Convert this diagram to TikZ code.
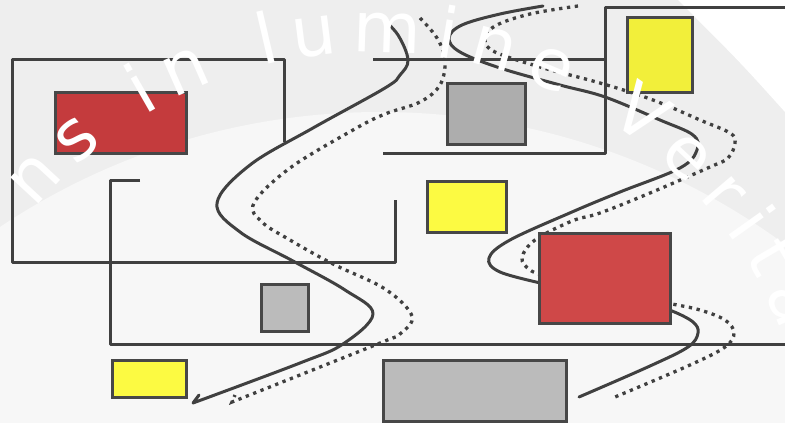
\documentclass[tikz,border=0pt]{standalone}
\usepackage{fontspec}
\newfontfamily\sealfont{DejaVu Sans}
\usetikzlibrary{decorations.text}

\definecolor{sealgrey}{HTML}{EEEEEE}
\definecolor{seallight}{HTML}{F7F7F7}
\definecolor{wallgrey}{HTML}{404040}
\definecolor{boxedge}{HTML}{474747}
\definecolor{redA}{HTML}{C43B3D}
\definecolor{redB}{HTML}{CF4848}
\definecolor{yellowA}{HTML}{F2EF3A}
\definecolor{yellowB}{HTML}{FCFA42}
\definecolor{greyA}{HTML}{ADADAD}
\definecolor{greyB}{HTML}{BBBBBB}

\begin{document}
\begin{tikzpicture}[x=1pt, y=-1pt,
  wall/.style={draw=wallgrey, line width=3pt, line join=round},
  route/.style={draw=wallgrey, line width=3pt, line cap=round, line join=round},
  trail/.style={draw=wallgrey, line width=3.3pt, dash pattern=on 3.3pt off 4.6pt},
  box/.style={draw=boxedge, line width=3pt}]
  \useasboundingbox (0,0) rectangle (785,423);
  \clip (0,0) rectangle (785,423);

  % background of the seal
  \fill[sealgrey] (0,0) rectangle (785,423);
  \fill[seallight] (380,797) circle[radius=685];
  \fill[white] (678,0) -- (785,0) -- (785,112) .. controls (740,62) .. (678,0);

  % walls
  \draw[wall] (284,142) -- (284,59) -- (12,59) -- (12,262) -- (395,262) -- (395,200);
  \draw[wall] (140,180) -- (110,180) -- (110,344) -- (785,344);
  \draw[wall] (373,59) -- (605,59);
  \draw[wall] (383,153) -- (605,153) -- (605,7) -- (785,7);

  % left path and its dotted twin
  \draw[route] plot[smooth, tension=0.6] coordinates {(381,17) (398,35) (408,60) (400,75)
    (385,88) (313,128) (250,165) (217,203) (240,232) (293,261) (345,290) (373,314)
    (343,344) (300,363) (193,403)} -- (199,395);
  \draw[trail] plot[smooth, tension=0.6] coordinates {(420,18) (437,38) (445,60) (440,85)
    (420,102) (385,114) (353,130) (290,168) (254,203) (262,222) (290,240) (333,264)
    (385,289) (412,316) (400,334) (385,341) (300,375) (232,402)} -- (235,395);

  % right path, passes under the red box
  \draw[route] plot[smooth, tension=0.6] coordinates {(543,6) (500,14) (462,25) (449,38)
    (460,52) (500,68) (560,85) (605,97) (660,120) (693,135) (697,150) (680,168)
    (620,192) (572,212) (510,240) (489,258) (500,272) (545,284)};
  \draw[route] plot[smooth, tension=0.6] coordinates {(650,305) (672,311) (693,322)
    (698,333) (688,347) (650,366) (579,397)};
  \draw[trail] plot[smooth, tension=0.6] coordinates {(578,6) (530,14) (495,26) (485,40)
    (495,52) (540,67) (600,83) (653,100) (700,120) (730,133) (735,143) (728,158)
    (710,167) (650,193) (600,213) (572,221) (535,240) (522,258) (530,270) (545,276)};
  \draw[trail] plot[smooth, tension=0.6] coordinates {(650,300) (672,304) (700,310)
    (725,320) (734,333) (725,347) (690,365) (615,397)};

  % boxes
  \draw[box, fill=redA] (55,92) rectangle (186,153);
  \draw[box, fill=greyA] (447,83) rectangle (525,144);
  \draw[box, fill=yellowA] (627,17) rectangle (692,92);
  \draw[box, fill=yellowB] (427,181) rectangle (506,232);
  \draw[box, fill=redB] (539,233) rectangle (670,323);
  \draw[box, fill=greyB] (261,284) rectangle (308,331);
  \draw[box, fill=yellowB] (112,360) rectangle (186,397);
  \draw[box, fill=greyB] (383,360) rectangle (566,421);

  % motto of the seal
  \path[decorate, opacity=0.32, decoration={text along path, text align=fit to path,
    text color=white, text={|\sealfont\fontsize{70}{84}\selectfont|ns in lumine Veritatis}}]
    (372,492) ++(-140:440) arc[start angle=-140, end angle=-5, radius=440];
\end{tikzpicture}
\end{document}
